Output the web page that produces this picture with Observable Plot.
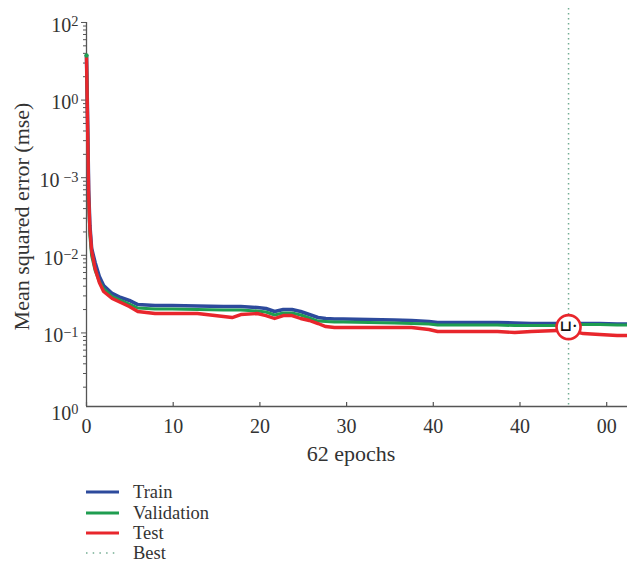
<!DOCTYPE html>
<html><head><meta charset="utf-8">
<script src="https://cdn.jsdelivr.net/npm/d3@7"></script>
<script src="https://cdn.jsdelivr.net/npm/@observablehq/plot@0.6"></script>
<style>
html,body{margin:0;padding:0;background:#fff;overflow:hidden;}
body{font-family:"Liberation Serif","DejaVu Serif",serif;color:#333;position:relative;width:627px;height:564px;}
#legend{position:absolute;left:0;top:0;}
.row{position:absolute;left:0;height:16px;display:flex;align-items:center;font-size:18.5px;line-height:16px;white-space:nowrap;}
.row svg{margin-left:86px;margin-right:13px;}
</style></head><body><div id="chart"></div><div id="legend"></div>
<script>
// epochs sampled along the curves
const epochs = [0,0.1,0.25,0.39,0.59,0.99,1.48,1.97,2.96,3.95,4.94,5.92,7.9,9.87,12.8,15.8,16.8,17.8,19.7,20.7,21.7,22.7,23.7,24.7,25.7,26.7,27.6,28.6,29.6,32.6,35.5,37.5,39.5,40.5,41.5,44.4,47.4,49.4,51.3,54.3,55.3,56.3,57.3,59.2,61.2,62.4];
// log10 position of the mse curves (as drawn)
const trainLog = [1.575,0.930,-0.165,-0.616,-0.912,-1.093,-1.273,-1.389,-1.492,-1.544,-1.582,-1.634,-1.647,-1.647,-1.653,-1.660,-1.660,-1.660,-1.673,-1.686,-1.724,-1.698,-1.698,-1.724,-1.763,-1.802,-1.814,-1.821,-1.821,-1.827,-1.834,-1.840,-1.853,-1.866,-1.866,-1.866,-1.866,-1.872,-1.879,-1.879,-1.879,-1.879,-1.879,-1.879,-1.885,-1.885];
const validationLog = [1.575,0.866,-0.294,-0.745,-1.003,-1.196,-1.338,-1.428,-1.531,-1.582,-1.628,-1.679,-1.692,-1.692,-1.698,-1.705,-1.705,-1.705,-1.718,-1.731,-1.769,-1.744,-1.744,-1.769,-1.808,-1.847,-1.853,-1.860,-1.860,-1.866,-1.872,-1.879,-1.885,-1.898,-1.898,-1.898,-1.898,-1.905,-1.905,-1.905,-1.905,-1.892,-1.892,-1.892,-1.898,-1.898];
const testLog = [1.549,0.866,-0.229,-0.655,-0.938,-1.170,-1.351,-1.466,-1.557,-1.608,-1.660,-1.724,-1.750,-1.750,-1.750,-1.789,-1.802,-1.763,-1.750,-1.776,-1.814,-1.776,-1.776,-1.814,-1.840,-1.879,-1.918,-1.930,-1.930,-1.930,-1.930,-1.930,-1.956,-1.982,-1.982,-1.982,-1.982,-1.995,-1.982,-1.969,-1.969,-1.982,-2.008,-2.021,-2.034,-2.034];
const bestEpoch = 55.6;
const bestLog = -1.925;

const xTickValues = [0,10,20,30,40,50,60];
const xTickLabels = ["0","10","20","30","40","40","00"];
const yTickValues = [2,1,0,-1,-2,-3];
const yTickLabels = ["10^2","10^0","10^ \u22123","10^\u22122","10^\u22121","10^0"];
const seriesNames = ["Train","Validation","Test","Best"];
const seriesColors = ["#2d4a9c","#1f9d50","#e8262c","#74ad93"];

const yMin = -2.948, yMax = 2.18;
const axisColor = "#555";
const rows = (vals) => epochs.map((e,i) => ({epoch: e, v: vals[i]}));

const majorTicks = yTickValues.filter(v => v >= yMin && v <= yMax);
const minorTicks = [];
for (let d = -3; d < 2; d++) for (let k = 2; k <= 9; k++) {
  const v = d + Math.log10(k);
  if (v >= yMin && v <= 2) minorTicks.push(v);
}

const chart = Plot.plot({
  width: 627, height: 472,
  marginLeft: 86, marginRight: 0, marginTop: 8, marginBottom: 66,
  style: {fontFamily: "Liberation Serif, DejaVu Serif, serif", fontSize: "20px", color: "#333", background: "white"},
  x: {domain: [0, 62.4], axis: null},
  y: {domain: [yMin, yMax]},
  marks: [
    Plot.axisY(minorTicks, {tickSize: 3, tickFormat: () => "", label: null, stroke: axisColor}),
    Plot.axisY(majorTicks, {tickSize: 5, tickFormat: () => "", label: null, stroke: axisColor}),
    Plot.ruleY([yMin], {stroke: axisColor, strokeWidth: 1.3}),
    Plot.ruleX([0], {y1: yMin, y2: 2, stroke: axisColor, strokeWidth: 1.3}),
    Plot.tickX(xTickValues, {x: d => d, insetTop: 394, stroke: axisColor, strokeWidth: 1.2}),
    Plot.text(xTickValues, {x: d => d, text: (d, i) => xTickLabels[i], frameAnchor: "bottom", lineAnchor: "middle", dy: 20, fontSize: 20, fill: "#333"}),
    Plot.text(yTickValues, {y: d => d, text: (d, i) => yTickLabels[i], frameAnchor: "left", textAnchor: "end", lineAnchor: "middle", dx: -8, dy: 3, fontSize: 20, fill: "#333"}),
    Plot.ruleX([bestEpoch], {stroke: seriesColors[3], strokeWidth: 1.5, strokeDasharray: "1.5,3.5"}),
    Plot.line(rows(trainLog), {x: "epoch", y: "v", stroke: seriesColors[0], strokeWidth: 3.6}),
    Plot.line(rows(validationLog), {x: "epoch", y: "v", stroke: seriesColors[1], strokeWidth: 3}),
    Plot.line(rows(testLog), {x: "epoch", y: "v", stroke: seriesColors[2], strokeWidth: 3.4}),
    Plot.dot([{epoch: epochs[0], v: validationLog[0]}], {x: "epoch", y: "v", r: 2.2, fill: seriesColors[1]}),
    Plot.dot([{epoch: bestEpoch, v: bestLog}], {x: "epoch", y: "v", r: 12, stroke: seriesColors[2], strokeWidth: 2.6, fill: "white"}),
    Plot.text([{epoch: bestEpoch, v: bestLog}], {x: "epoch", y: "v", text: () => "\u2294\u00b7", fontSize: 15, fontWeight: "bold", fill: "#111", dy: -1}),
    Plot.text(["62 epochs"], {frameAnchor: "bottom", lineAnchor: "middle", text: d => d, dx: -6, dy: 47, fontSize: 22, fill: "#333"}),
    Plot.text(["Mean squared error (mse)"], {frameAnchor: "left", textAnchor: "middle", lineAnchor: "middle", text: d => d, rotate: -90, dx: -65, dy: 9, fontSize: 22, fill: "#333"})
  ]
});
document.getElementById("chart").appendChild(chart);

d3.select(chart).selectAll("text").each(function() {
  const t = this.textContent;
  if (!t.includes("^")) return;
  const s = d3.select(this);
  const [b, e] = t.split("^");
  s.text(null);
  s.append("tspan").text(b);
  s.append("tspan").attr("dy", "-0.38em").attr("font-size", "72%").text(e);
});

const legendTops = [484, 504.5, 525, 545];
const legend = d3.select("#legend");
seriesNames.forEach((name, i) => {
  const row = legend.append("div").attr("class", "row").style("top", legendTops[i] + "px");
  const sv = row.append("svg").attr("width", 34).attr("height", 6);
  const ln = sv.append("line").attr("x1", 0).attr("x2", 33).attr("y1", 3).attr("y2", 3)
    .attr("stroke", seriesColors[i]).attr("stroke-width", i === 3 ? 1.5 : 3);
  if (i === 3) ln.attr("stroke-dasharray", "1.5,5.2");
  row.append("span").text(name);
});
</script></body></html>
